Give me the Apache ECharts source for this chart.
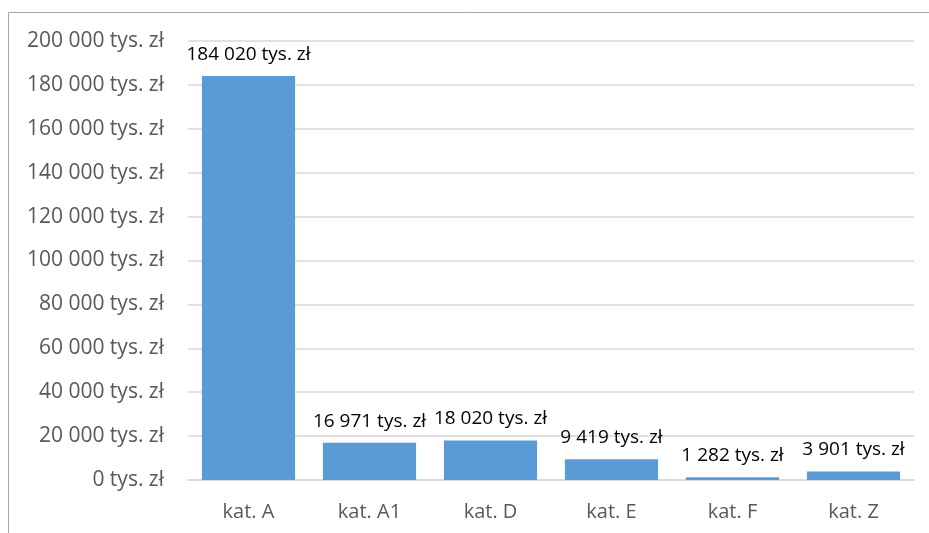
<!DOCTYPE html>
<html>
<head>
<meta charset="utf-8">
<script src="https://cdn.jsdelivr.net/npm/echarts@6/dist/echarts.min.js"></script>
<style>html,body{margin:0;padding:0;background:#fff}#c{width:929px;height:533px}</style>
</head>
<body>
<div id="c"></div>
<script>
const categories = ['kat. A', 'kat. A1', 'kat. D', 'kat. E', 'kat. F', 'kat. Z'];
const values = [184020, 16971, 18020, 9419, 1282, 3901];
const yMin = 0, yMax = 200000, yStep = 20000;

function fmt(v) {
  return String(v).replace(/\B(?=(\d{3})+(?!\d))/g, ' ') + ' tys. zł';
}
const FONT = 'Open Sans';
const chart = echarts.init(document.getElementById('c'));
chart.setOption({
  animation: false,
  backgroundColor: '#fff',
  grid: { left: 188, right: 15, top: 41, bottom: 53 },
  graphic: [
    { type: 'line', shape: { x1: 8.5, y1: 12.5, x2: 929, y2: 12.5 }, style: { stroke: '#a6a6a6', lineWidth: 1 } },
    { type: 'line', shape: { x1: 8.5, y1: 12.5, x2: 8.5, y2: 533 }, style: { stroke: '#a6a6a6', lineWidth: 1 } }
  ],
  xAxis: {
    type: 'category',
    data: categories,
    axisLine: { show: true, lineStyle: { color: '#d9d9d9', width: 1.5 } },
    axisTick: { show: false },
    axisLabel: { color: '#595959', fontFamily: FONT, fontSize: 20, margin: 22 }
  },
  yAxis: {
    type: 'value',
    min: yMin, max: yMax, interval: yStep,
    axisLine: { show: false },
    axisTick: { show: false },
    splitLine: { lineStyle: { color: '#d9d9d9', width: 1.5 } },
    axisLabel: { color: '#595959', fontFamily: FONT, fontSize: 21, margin: 24, formatter: fmt }
  },
  series: [{
    type: 'bar',
    data: values,
    barCategoryGap: '23%',
    itemStyle: { color: '#5b9bd5' },
    label: {
      show: true, position: 'top', distance: 12,
      color: '#000', fontFamily: FONT, fontSize: 19,
      formatter: p => fmt(p.value)
    }
  }]
});
</script>
</body>
</html>
